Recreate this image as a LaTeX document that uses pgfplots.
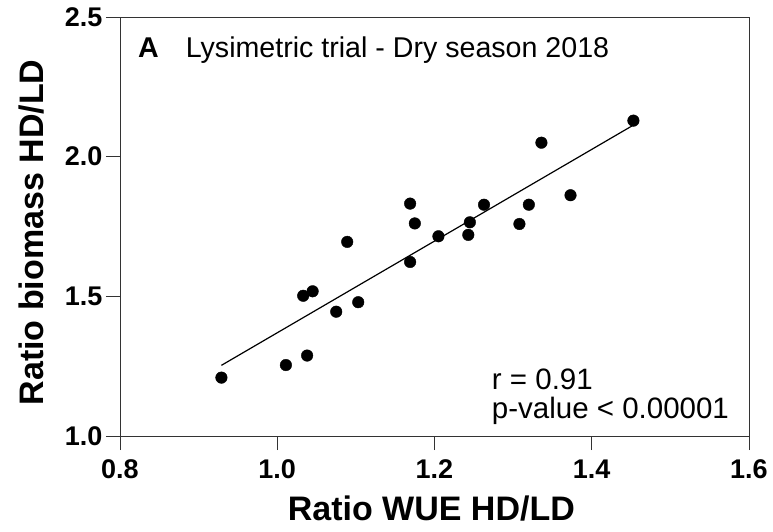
\documentclass[border=0pt]{standalone}
\usepackage{fontspec}
\setmainfont{Liberation Sans}
\usepackage{pgfplots}
\pgfplotsset{compat=1.18}
\begin{document}
\begin{tikzpicture}
\useasboundingbox (-120bp,-96bp) rectangle (653bp,436bp);
\begin{axis}[
  at={(0,0)}, anchor=south west,
  scale only axis, width=629bp, height=419bp,
  xmin=0.8, xmax=1.6, ymin=1.0, ymax=2.5,
  xtick={0.8,1.0,1.2,1.4,1.6}, ytick={1.0,1.5,2.0,2.5},
  xtick pos=bottom, ytick pos=left,
  tick align=outside, major tick length=14bp,
  axis line style={line width=0.9bp, black!80},
  every tick/.style={line width=0.9bp, black!80},
  /pgf/number format/assume math mode=true,
  xticklabel style={yshift=-6bp, font=\fontsize{27bp}{31bp}\selectfont\bfseries, /pgf/number format/.cd, fixed, fixed zerofill, precision=1},
  yticklabel style={font=\fontsize{27bp}{31bp}\selectfont\bfseries, /pgf/number format/.cd, fixed, fixed zerofill, precision=1},
  xlabel={Ratio WUE HD/LD}, ylabel={Ratio biomass HD/LD},
  every axis x label/.style={at={(axis description cs:0.495,-0.2005)}, anchor=base, font=\fontsize{34bp}{40bp}\selectfont\bfseries},
  every axis y label/.style={at={(axis description cs:-0.1224,0.486)}, anchor=base, rotate=90, font=\fontsize{34bp}{40bp}\selectfont\bfseries},
  clip=false,
]
\addplot[only marks, mark=*, mark size=5.8bp, black] coordinates {
(0.929,1.209) (1.011,1.254) (1.038,1.288) (1.033,1.502) (1.045,1.518)
(1.075,1.445) (1.089,1.695) (1.103,1.479) (1.169,1.832) (1.175,1.761)
(1.169,1.623) (1.205,1.715) (1.245,1.765) (1.243,1.720) (1.263,1.828)
(1.308,1.759) (1.320,1.828) (1.336,2.050) (1.373,1.862) (1.453,2.129)
};
\addplot[black, line width=1.2bp] coordinates {(0.929,1.253) (1.453,2.113)};
\node[anchor=base west, inner sep=0pt, font=\fontsize{28.6bp}{34bp}\selectfont] at (rel axis cs:0.0286,0.904) {\textbf{A}\hspace{27bp}Lysimetric trial - Dry season 2018};
\node[anchor=base west, inner sep=0pt, font=\fontsize{29.5bp}{34bp}\selectfont] at (rel axis cs:0.591,0.112) {r = 0.91};
\node[anchor=base west, inner sep=0pt, font=\fontsize{29.5bp}{34bp}\selectfont] at (rel axis cs:0.591,0.0406) {p-value < 0.00001};
\end{axis}
\end{tikzpicture}
\end{document}
